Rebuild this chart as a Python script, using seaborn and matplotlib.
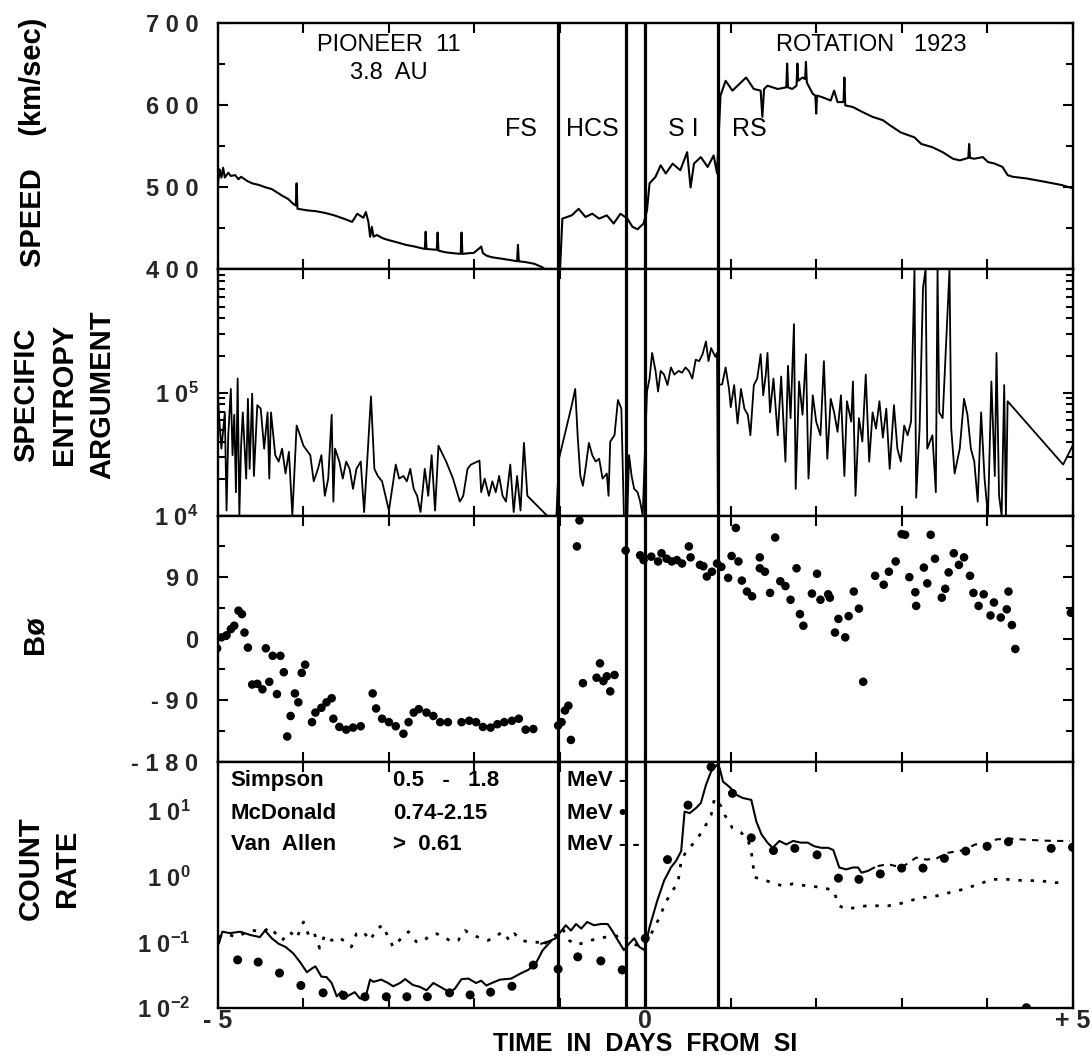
import numpy as np
import pandas as pd
import matplotlib
matplotlib.use("Agg")
import matplotlib.pyplot as plt
import seaborn as sns
from matplotlib.ticker import LogLocator, NullFormatter, MultipleLocator

# ---------------- data (days from SI) ----------------
event_days = [-1.02, -0.22, 0.0, 0.85]          # FS, HCS, SI, RS boundaries

# speed (km/s) - left piece
speed_left_x = [-5.00, -4.98, -4.96, -4.94, -4.92, -4.88, -4.85, -4.80, -4.76, -4.73,
                -4.66, -4.60, -4.52, -4.44, -4.37, -4.31, -4.25, -4.18, -4.12, -4.09,
                -4.08, -4.07, -3.95, -3.85, -3.75, -3.64, -3.53, -3.43, -3.37, -3.30,
                -3.27, -3.24, -3.22, -3.20, -3.18, -3.14, -3.07, -3.01, -2.90, -2.80,
                -2.70, -2.58, -2.57, -2.56, -2.44, -2.43, -2.42, -2.34, -2.26, -2.16,
                -2.15, -2.14, -2.05, -2.01, -1.94, -1.92, -1.90, -1.86, -1.80, -1.67,
                -1.55, -1.50, -1.49, -1.48, -1.40, -1.30, -1.21, -1.17]
speed_left_v = [505, 522, 512, 524, 512, 518, 514, 515, 510, 513,
                508, 505, 503, 500, 498, 494, 490, 486, 480, 478,
                505, 474, 472, 471, 469, 466, 462, 458, 468, 463,
                470, 458, 440, 452, 440, 442, 438, 436, 433, 430,
                428, 425, 446, 425, 424, 445, 423, 421, 420, 419,
                445, 419, 420, 420, 426, 428, 420, 417, 415, 413,
                411, 410, 430, 410, 409, 407, 403, 400]
# speed - right piece
speed_right_x = [-1.00, -0.97, -0.86, -0.78, -0.70, -0.62, -0.54, -0.45, -0.37, -0.29,
                 -0.21, -0.15, -0.09, -0.02, 0.02, 0.05, 0.12, 0.18, 0.24, 0.32,
                 0.41, 0.49, 0.53, 0.57, 0.65, 0.73, 0.80, 0.84, 0.88, 0.94,
                 1.02, 1.18, 1.27, 1.35, 1.37, 1.39, 1.43, 1.55, 1.65, 1.66,
                 1.67, 1.72, 1.77, 1.78, 1.79, 1.84, 1.87, 1.88, 1.89, 1.96,
                 1.99, 2.00, 2.01, 2.07, 2.17, 2.21, 2.25, 2.32, 2.33, 2.34,
                 2.43, 2.54, 2.66, 2.78, 2.86, 2.99, 3.15, 3.23, 3.36, 3.48,
                 3.60, 3.68, 3.78, 3.79, 3.80, 3.85, 3.95, 4.01, 4.09, 4.18,
                 4.24, 4.30, 4.46, 4.67, 4.87, 5.00]
speed_right_v = [395, 462, 466, 474, 464, 468, 462, 466, 456, 468,
                 462, 452, 449, 456, 472, 505, 513, 527, 517, 529,
                 521, 543, 500, 529, 537, 525, 539, 517, 612, 630,
                 618, 634, 620, 618, 586, 620, 624, 620, 622, 651,
                 622, 620, 624, 651, 630, 634, 632, 653, 628, 614,
                 612, 590, 612, 610, 606, 618, 604, 604, 634, 600,
                 598, 592, 586, 582, 576, 567, 561, 553, 549, 543,
                 535, 533, 536, 553, 536, 535, 537, 531, 529, 525,
                 515, 513, 511, 507, 503, 499]

# specific entropy argument - left piece
ent_left_x = [-5.00, -4.98, -4.96, -4.92, -4.90, -4.88, -4.85, -4.83, -4.81, -4.79,
              -4.77, -4.75, -4.73, -4.71, -4.67, -4.65, -4.63, -4.60, -4.58, -4.54,
              -4.50, -4.46, -4.42, -4.40, -4.38, -4.33, -4.29, -4.25, -4.21, -4.17,
              -4.13, -4.08, -4.04, -4.00, -3.92, -3.88, -3.83, -3.79, -3.75, -3.71,
              -3.67, -3.65, -3.63, -3.58, -3.54, -3.50, -3.46, -3.42, -3.38, -3.33,
              -3.29, -3.25, -3.21, -3.17, -3.13, -3.08, -3.00, -2.92, -2.88, -2.83,
              -2.79, -2.75, -2.71, -2.67, -2.63, -2.58, -2.54, -2.50, -2.46, -2.42,
              -2.33, -2.25, -2.17, -2.13, -2.08, -2.04, -1.94, -1.92, -1.88, -1.83,
              -1.79, -1.75, -1.71, -1.67, -1.63, -1.58, -1.54, -1.50, -1.46, -1.42,
              -1.38, -1.15]
ent_left_v = [8.9e4, 5.4e4, 3.5e4, 6.9e4, 1.1e4, 4.5e4, 1.07e5, 3.1e4, 6.6e4, 1.55e4,
              1.3e5, 1.0e4, 3.7e4, 6.9e4, 2.0e4, 8.9e4, 2.4e4, 9.8e4, 2.1e4, 7.9e4,
              7.4e4, 3.5e4, 6.9e4, 2.0e4, 6.9e4, 3.1e4, 2.75e4, 3.5e4, 2.2e4, 3.3e4,
              1.0e4, 5.4e4, 4.5e4, 3.7e4, 3.1e4, 1.9e4, 2.4e4, 3.1e4, 1.45e4, 2.0e4,
              6.6e4, 1.3e4, 3.5e4, 2.75e4, 2.0e4, 2.75e4, 2.4e4, 1.65e4, 2.4e4, 2.75e4,
              1.07e4, 3.1e4, 9.3e4, 2.4e4, 2.1e4, 1.9e4, 1.1e4, 2.6e4, 2.0e4, 2.1e4,
              1.9e4, 2.4e4, 1.65e4, 1.45e4, 1.07e4, 2.4e4, 1.45e4, 3.1e4, 1.1e4, 3.7e4,
              2.75e4, 2.0e4, 1.3e4, 1.45e4, 2.4e4, 2.6e4, 2.8e4, 1.55e4, 2.0e4, 1.45e4,
              1.9e4, 1.55e4, 2.1e4, 1.45e4, 1.3e4, 2.6e4, 1.07e4, 2.1e4, 1.1e4, 3.9e4,
              1.45e4, 1.0e4]
# specific entropy argument - right piece
ent_right_x = [-1.04, -1.01, -0.86, -0.82, -0.79, -0.76, -0.73, -0.70, -0.66, -0.62,
               -0.58, -0.54, -0.50, -0.45, -0.43, -0.41, -0.36, -0.32, -0.28, -0.25,
               -0.21, -0.19, -0.16, -0.13, -0.09, -0.06, -0.03, 0.02, 0.05, 0.08,
               0.12, 0.15, 0.18, 0.22, 0.26, 0.30, 0.34, 0.39, 0.43, 0.47,
               0.51, 0.55, 0.59, 0.63, 0.67, 0.71, 0.74, 0.77, 0.82, 0.84,
               0.85, 0.86, 0.90, 0.94, 0.98, 1.00, 1.04, 1.08, 1.12, 1.16,
               1.20, 1.23, 1.27, 1.31, 1.35, 1.38, 1.41, 1.43, 1.46, 1.50,
               1.55, 1.59, 1.64, 1.67, 1.70, 1.74, 1.76, 1.80, 1.84, 1.88,
               1.91, 1.96, 2.00, 2.05, 2.09, 2.13, 2.17, 2.21, 2.25, 2.29,
               2.33, 2.36, 2.41, 2.43, 2.46, 2.50, 2.54, 2.58, 2.62, 2.66,
               2.70, 2.74, 2.78, 2.82, 2.86, 2.91, 2.95, 2.99, 3.03, 3.07,
               3.11, 3.15, 3.17, 3.21, 3.25, 3.28, 3.30, 3.36, 3.40, 3.42,
               3.44, 3.48, 3.56, 3.58, 3.62, 3.68, 3.73, 3.77, 3.81, 3.85,
               3.89, 3.93, 3.97, 4.01, 4.05, 4.09, 4.11, 4.14, 4.17, 4.20,
               4.22, 4.24, 4.89, 5.00]
ent_right_v = [1.0e4, 2.9e4, 7.9e4, 1.07e5, 4.3e4, 2.1e4, 1.75e4, 2.4e4, 3.9e4, 3.1e4,
               2.75e4, 2.9e4, 2.0e4, 2.2e4, 1.45e4, 4.0e4, 4.5e4, 8.7e4, 7.4e4, 1.0e4,
               1.0e4, 3.1e4, 2.1e4, 1.65e4, 1.55e4, 1.3e4, 1.0e4, 1.02e5, 1.3e5, 2.1e5,
               1.5e5, 1.02e5, 1.5e5, 1.4e5, 1.15e5, 1.6e5, 1.4e5, 1.5e5, 1.45e5, 1.6e5,
               1.5e5, 1.3e5, 1.85e5, 1.8e5, 2.05e5, 2.6e5, 1.8e5, 2.3e5, 1.95e5, 2.1e5,
               1.0e4, 1.15e5, 1.17e5, 1.6e5, 1.07e5, 7.6e4, 1.15e5, 5.6e4, 1.07e5, 7.4e4,
               6.6e4, 4.5e4, 1.15e5, 1.3e5, 2.05e5, 9.5e4, 1.4e5, 2.1e5, 6.9e4, 1.3e5,
               4.5e4, 1.35e5, 2.75e4, 1.65e5, 6.2e4, 3.6e5, 1.65e4, 1.23e5, 6.6e4, 2.05e5,
               2.0e4, 9.5e4, 5.8e4, 4.5e4, 1.8e5, 2.9e4, 8.9e4, 6.9e4, 4.8e4, 9.5e4,
               2.1e4, 8.5e4, 5.8e4, 1.23e5, 1.45e4, 6.2e4, 4.0e4, 1.4e5, 2.75e4, 6.9e4,
               5.1e4, 8.5e4, 4.3e4, 7.4e4, 2.4e4, 7.9e4, 3.5e4, 2.75e4, 5.4e4, 4.5e4,
               5.8e4, 1.0e6, 1.4e4, 5.1e4, 7.1e5, 1.0e6, 3.5e4, 4.5e4, 1.55e4, 1.0e6,
               6.9e4, 6.2e4, 1.0e6, 5.1e4, 2.2e4, 3.5e4, 8.9e4, 6.6e4, 3.5e4, 2.75e4,
               1.3e4, 6.9e4, 2.0e4, 1.0e4, 1.23e5, 2.1e4, 2.1e5, 1.45e4, 1.0e4, 1.15e5,
               1.0e4, 8.5e4, 2.6e4, 3.7e4]

# B-phi (degrees)
bphi_x = [-5.01, -4.96, -4.90, -4.85, -4.81, -4.76, -4.72, -4.69, -4.65, -4.60,
          -4.54, -4.48, -4.44, -4.40, -4.36, -4.31, -4.27, -4.23, -4.19, -4.15,
          -4.10, -4.06, -4.02, -3.98, -3.90, -3.86, -3.79, -3.73, -3.67, -3.65,
          -3.58, -3.50, -3.42, -3.33, -3.19, -3.15, -3.08, -3.00, -2.92, -2.83,
          -2.77, -2.71, -2.65, -2.56, -2.48, -2.40, -2.31, -2.15, -2.06, -1.98,
          -1.90, -1.81, -1.73, -1.65, -1.56, -1.48, -1.40, -1.31,
          -1.02, -0.98, -0.94, -0.90, -0.87, -0.80, -0.77, -0.73, -0.57, -0.53,
          -0.49, -0.45, -0.41, -0.36, -0.23, -0.06, -0.02, 0.07, 0.15, 0.19,
          0.25, 0.31, 0.37, 0.43, 0.51, 0.53, 0.64, 0.68, 0.72, 0.78,
          0.84, 0.89, 0.97, 1.01, 1.06, 1.09, 1.13, 1.19, 1.25, 1.34,
          1.34, 1.40, 1.46, 1.52, 1.58, 1.64, 1.70, 1.77, 1.81, 1.85,
          1.95, 2.01, 2.05, 2.14, 2.16, 2.22, 2.26, 2.34, 2.38, 2.44,
          2.50, 2.55, 2.69, 2.79, 2.85, 2.93, 3.00, 3.04, 3.09, 3.16,
          3.17, 3.26, 3.30, 3.34, 3.39, 3.47, 3.51, 3.55, 3.61, 3.67,
          3.73, 3.80, 3.84, 3.90, 3.96, 4.04, 4.08, 4.16, 4.23, 4.25,
          4.29, 4.33, 4.98]
bphi_v = [-14, 2, 5, 14, 19, 41, 36, 9, -13, -67,
          -66, -74, -14, -63, -25, -81, -25, -49, -143, -113,
          -80, -93, -50, -38, -122, -108, -101, -93, -87, -117,
          -129, -133, -130, -128, -80, -102, -117, -122, -128, -139,
          -122, -108, -103, -108, -113, -122, -122, -122, -120, -122,
          -129, -130, -125, -122, -120, -117, -133, -132,
          -127, -122, -105, -98, -148, 135, 173, -65, -57, -36,
          -62, -55, -77, -53, 129, 122, 115, 120, 113, 125,
          117, 113, 115, 110, 135, 119, 108, 106, 91, 98,
          110, 105, 89, 121, 162, 113, 85, 69, 62, 119,
          103, 98, 67, 148, 84, 77, 57, 103, 36, 19,
          66, 95, 57, 65, 60, 9, 29, 2, 33, 69,
          44, -63, 92, 79, 98, 113, 153, 152, 90, 68,
          48, 104, 81, 152, 117, 60, 73, 97, 125, 108,
          119, 92, 67, 48, 65, 34, 53, 31, 43, 69,
          20, -15, 38]

# count rates
simpson_left_x = [-4.99, -4.95, -4.86, -4.74, -4.62, -4.51, -4.45, -4.37, -4.29, -4.21,
                  -4.12, -4.04, -3.96, -3.90, -3.86, -3.79, -3.73, -3.67, -3.61, -3.55,
                  -3.49, -3.40, -3.34, -3.28, -3.22, -3.18, -3.09, -3.01, -2.95, -2.87,
                  -2.81, -2.72, -2.64, -2.56, -2.48, -2.40, -2.29, -2.23, -2.15, -2.07,
                  -1.98, -1.92, -1.86, -1.78, -1.70, -1.57, -1.45, -1.37, -1.28, -1.20,
                  -1.10]
simpson_left_v = [0.095, 0.145, 0.138, 0.145, 0.129, 0.120, 0.151, 0.115, 0.095, 0.085,
                  0.068, 0.050, 0.035, 0.040, 0.043, 0.030, 0.0295, 0.024, 0.015, 0.018,
                  0.015, 0.0174, 0.014, 0.0135, 0.027, 0.025, 0.027, 0.024, 0.0214, 0.024,
                  0.0275, 0.0224, 0.021, 0.0186, 0.024, 0.021, 0.0174, 0.0195, 0.0275, 0.028,
                  0.024, 0.026, 0.022, 0.0245, 0.027, 0.028, 0.034, 0.038, 0.048, 0.076,
                  0.105]
simpson_right_x = [-1.22, -1.14, -1.05, -0.99, -0.93, -0.87, -0.81, -0.75, -0.68, -0.60,
                   -0.52, -0.44, -0.38, -0.32, -0.25, -0.19, -0.13, -0.07, -0.01, 0.05,
                   0.14, 0.22, 0.30, 0.36, 0.42, 0.46, 0.52, 0.59, 0.65, 0.71,
                   0.77, 0.83, 0.87, 0.91, 0.99, 1.06, 1.14, 1.24, 1.30, 1.36,
                   1.43, 1.49, 1.57, 1.65, 1.73, 1.82, 1.90, 1.98, 2.06, 2.14,
                   2.20, 2.27, 2.35, 2.43, 2.49, 2.53, 2.61, 2.68]
simpson_right_v = [0.095, 0.102, 0.115, 0.145, 0.182, 0.151, 0.19, 0.162, 0.204, 0.182,
                   0.19, 0.19, 0.145, 0.107, 0.076, 0.095, 0.115, 0.085, 0.076, 0.17,
                   0.43, 0.87, 1.38, 1.74, 2.45, 9.8, 9.3, 11.0, 13.2, 25.0,
                   40.0, 50.0, 45.0, 28.0, 23.0, 17.8, 15.8, 14.8, 6.9, 4.4,
                   3.3, 2.75, 3.5, 3.1, 3.5, 3.3, 3.3, 2.9, 2.75, 2.75,
                   2.55, 1.38, 1.29, 1.38, 1.38, 1.15, 1.23, 1.38]
simpson_tail_x = [2.72, 2.84, 3.00, 3.17, 3.29, 3.41, 3.53, 3.66, 3.74, 3.86,
                  3.99, 4.11, 4.27, 4.40, 4.64, 4.81, 4.97]
simpson_tail_v = [1.45, 1.55, 1.38, 1.95, 1.82, 1.9, 2.3, 2.45, 2.55, 3.1,
                  3.1, 3.7, 3.8, 3.7, 3.55, 3.5, 3.5]

mcdonald_x = [-4.77, -4.53, -4.28, -4.03, -3.77, -3.53, -3.28, -3.03, -2.79, -2.55,
              -2.29, -2.05, -1.81, -1.56, -1.31,
              -1.02, -0.79, -0.52, -0.27, 0.00, 0.26, 0.50, 0.77, 1.02, 1.24,
              1.50, 1.75, 2.01, 2.26, 2.50, 2.75, 3.00, 3.25, 3.50, 3.75,
              4.00, 4.25, 4.46, 4.75, 5.00]
mcdonald_v = [0.054, 0.050, 0.034, 0.022, 0.017, 0.0155, 0.0148, 0.0148, 0.0148, 0.0148,
              0.017, 0.0158, 0.0174, 0.0214, 0.045,
              0.039, 0.060, 0.052, 0.038, 0.115, 1.82, 12.3, 47.0, 18.6, 3.9,
              2.5, 2.7, 2.15, 0.95, 0.91, 1.10, 1.35, 1.35, 1.9, 2.45,
              2.9, 3.4, 0.0101, 2.7, 2.8]

vanallen_left_x = [-4.99, -4.91, -4.78, -4.66, -4.58, -4.47, -4.39, -4.31, -4.25, -4.16,
                   -4.08, -4.00, -3.94, -3.88, -3.81, -3.75, -3.67, -3.59, -3.51, -3.44,
                   -3.38, -3.30, -3.22, -3.14, -3.07, -3.01, -2.95, -2.89, -2.83, -2.77,
                   -2.68, -2.60, -2.52, -2.44, -2.35, -2.27, -2.19, -2.11, -2.02, -1.92,
                   -1.84, -1.76, -1.67, -1.59, -1.53, -1.45, -1.37, -1.26, -1.16]
vanallen_left_v = [0.120, 0.135, 0.120, 0.145, 0.151, 0.145, 0.170, 0.129, 0.107, 0.145,
                   0.115, 0.204, 0.129, 0.145, 0.081, 0.129, 0.107, 0.120, 0.102, 0.085,
                   0.135, 0.145, 0.107, 0.162, 0.182, 0.120, 0.085, 0.102, 0.129, 0.145,
                   0.102, 0.102, 0.129, 0.135, 0.120, 0.102, 0.107, 0.151, 0.129, 0.115,
                   0.107, 0.120, 0.145, 0.107, 0.135, 0.107, 0.102, 0.100, 0.107]
vanallen_right_x = [-1.18, -1.05, -0.97, -0.89, -0.81, -0.68, -0.56, -0.46, -0.36, -0.27,
                    -0.15, -0.03, 0.05, 0.16, 0.24, 0.32, 0.38, 0.42, 0.48, 0.59,
                    0.69, 0.77, 0.81, 0.89, 0.93, 1.02, 1.12, 1.20, 1.24, 1.28,
                    1.36, 1.49, 1.61, 1.73, 1.90, 2.06, 2.20, 2.27, 2.35, 2.47,
                    2.59, 2.72, 2.84, 2.96, 3.09, 3.25, 3.41, 3.58, 3.74, 3.91,
                    4.07, 4.23, 4.44, 4.60, 4.81, 4.93]
vanallen_right_v = [0.095, 0.129, 0.162, 0.107, 0.091, 0.102, 0.115, 0.120, 0.120, 0.135,
                    0.095, 0.085, 0.120, 0.23, 0.41, 0.62, 0.78, 1.74, 2.45, 3.5,
                    5.5, 8.7, 15.5, 11.7, 8.7, 5.5, 4.7, 3.7, 2.45, 0.98,
                    0.91, 0.81, 0.72, 0.78, 0.72, 0.69, 0.62, 0.36, 0.32, 0.34,
                    0.36, 0.36, 0.36, 0.38, 0.43, 0.48, 0.51, 0.58, 0.65, 0.78,
                    0.91, 0.91, 0.87, 0.87, 0.81, 0.81]

speed_ticks = [400, 500, 600, 700]
speed_labels = ["4 0 0", "5 0 0", "6 0 0", "7 0 0"]
ent_ticks = [1e4, 1e5]
ent_labels = ["1 0$^{4}$", "1 0$^{5}$"]
bphi_ticks = [-180, -90, 0, 90]
bphi_labels = ["- 1 8 0", "- 9 0", "0", "9 0"]
count_ticks = [1e-2, 1e-1, 1e0, 1e1]
count_labels = ["1 0$^{-2}$", "1 0$^{-1}$", "1 0$^{0}$", "1 0$^{1}$"]
x_labels = ["- 5", "", "", "", "", "0", "", "", "", "", "+ 5"]

# ---------------- style ----------------
sns.set_theme(style="ticks")
plt.rcParams["font.family"] = ["Liberation Sans", "DejaVu Sans"]
plt.rcParams["font.weight"] = "bold"
plt.rcParams["mathtext.fontset"] = "custom"
plt.rcParams["mathtext.rm"] = "Liberation Sans:bold"
plt.rcParams["mathtext.bf"] = "Liberation Sans:bold"
plt.rcParams["mathtext.it"] = "Liberation Sans:bold"
plt.rcParams["mathtext.default"] = "bf"
plt.rcParams["axes.linewidth"] = 1.7

fig, axes = plt.subplots(4, 1, figsize=(10.9, 10.61), dpi=100, sharex=True)
fig.subplots_adjust(left=0.2, right=0.984, top=0.978, bottom=0.05, hspace=0)
ax_sp, ax_en, ax_bp, ax_ct = axes

LW = 1.5


def draw_line(ax, x, y, ls="-", lw=LW):
    df = pd.DataFrame({"x": x, "y": y})
    sns.lineplot(data=df, x="x", y="y", ax=ax, sort=False, estimator=None,
                 color="black", lw=lw, legend=False)
    ax.lines[-1].set_linestyle(ls)


def draw_dots(ax, x, y, s=38):
    df = pd.DataFrame({"x": x, "y": y})
    sns.scatterplot(data=df, x="x", y="y", ax=ax, color="black", s=s,
                    edgecolor="none", legend=False, zorder=3)


# speed
draw_line(ax_sp, speed_left_x, speed_left_v)
draw_line(ax_sp, speed_right_x, speed_right_v)
ax_sp.set_ylim(400, 700)

# entropy
ax_en.set_yscale("log")
draw_line(ax_en, ent_left_x, ent_left_v, lw=1.3)
draw_line(ax_en, ent_right_x, ent_right_v, lw=1.3)
ax_en.set_ylim(1e4, 1e6)

# B phi
draw_dots(ax_bp, bphi_x, bphi_v)
ax_bp.set_ylim(-180, 180)

# count rate
ax_ct.set_yscale("log")
draw_line(ax_ct, simpson_left_x, simpson_left_v)
draw_line(ax_ct, simpson_right_x, simpson_right_v)
draw_line(ax_ct, simpson_tail_x, simpson_tail_v, ls=(0, (3, 3)))
draw_line(ax_ct, vanallen_left_x, vanallen_left_v, ls=(0, (1.2, 3.2)), lw=2.0)
draw_line(ax_ct, vanallen_right_x, vanallen_right_v, ls=(0, (1.2, 3.2)), lw=2.0)
draw_dots(ax_ct, mcdonald_x, mcdonald_v, s=42)
ax_ct.set_ylim(1e-2, 10 ** 1.75)

# event boundaries
for ax in axes:
    for xv in event_days:
        ax.axvline(xv, color="black", lw=2.3, zorder=4)
    ax.set_xlim(-5, 5)
    ax.set_xlabel("")
    ax.set_ylabel("")
    ax.xaxis.set_major_locator(MultipleLocator(1))
    ax.tick_params(axis="both", which="both", direction="in", top=True, right=True,
                   width=1.5, color="black")
    ax.tick_params(axis="both", which="major", length=7, labelsize=17, pad=14)
    ax.tick_params(axis="both", which="minor", length=5)
    for sp in ax.spines.values():
        sp.set_color("black")
        sp.set_linewidth(1.7)

ax_sp.set_yticks(speed_ticks, speed_labels)
ax_sp.yaxis.set_minor_locator(MultipleLocator(50))

ax_en.set_yticks(ent_ticks, ent_labels)
ax_en.yaxis.set_minor_locator(LogLocator(base=10, subs=np.arange(2, 10)))
ax_en.yaxis.set_minor_formatter(NullFormatter())

ax_bp.set_yticks(bphi_ticks, bphi_labels)
ax_bp.yaxis.set_minor_locator(MultipleLocator(45))

ax_ct.set_yticks(count_ticks, count_labels)
ax_ct.yaxis.set_minor_locator(LogLocator(base=10, subs=[]))
ax_ct.yaxis.set_minor_formatter(NullFormatter())
ax_ct.tick_params(axis="y", which="both", length=0, pad=20)

ax_ct.set_xticks(np.arange(-5, 6), x_labels)
ax_ct.tick_params(axis="x", which="major", labelsize=18, pad=1)

# annotations
TXT = dict(ha="center", va="center", fontweight="normal", color="black")
ax_sp.text(-3.0, 674, "PIONEER  11", fontsize=17, **TXT)
ax_sp.text(-3.0, 640, "3.8  AU", fontsize=17, **TXT)
ax_sp.text(2.65, 674, "ROTATION   1923", fontsize=17, **TXT)
ax_sp.text(-1.45, 571, "FS", fontsize=18, **TXT)
ax_sp.text(-0.62, 571, "HCS", fontsize=18, **TXT)
ax_sp.text(0.45, 571, "S I", fontsize=18, **TXT)
ax_sp.text(1.22, 571, "RS", fontsize=18, **TXT)

LEG = dict(ha="left", va="center", fontsize=16, fontweight="bold", color="black",
           transform=ax_ct.get_xaxis_transform())
ax_ct.text(-4.85, 0.925, "Simpson", **LEG)
ax_ct.text(-2.95, 0.925, "0.5   -   1.8", **LEG)
ax_ct.text(-0.92, 0.925, "MeV -", **LEG)
ax_ct.text(-4.85, 0.79, "McDonald", **LEG)
ax_ct.text(-2.95, 0.79, "0.74-2.15", **LEG)
ax_ct.text(-0.92, 0.79, "MeV •", **LEG)
ax_ct.text(-4.85, 0.665, "Van  Allen", **LEG)
ax_ct.text(-2.95, 0.665, ">  0.61", **LEG)
ax_ct.text(-0.92, 0.665, "MeV - -", **LEG)

# y-axis titles
YL = dict(ha="center", va="center", rotation=90, fontsize=21, fontweight="bold",
          color="black")
fig.text(0.030, 0.866, "SPEED    (km/sec)", **YL)
fig.text(0.059, 0.628, "SPECIFIC\nENTROPY\nARGUMENT", linespacing=1.45,
         multialignment="center", **YL)
fig.text(0.032, 0.402, "Bø", **YL)
fig.text(0.045, 0.182, "COUNT\nRATE", linespacing=1.35, multialignment="center", **YL)

fig.text(0.592, 0.0095, "TIME  IN  DAYS  FROM  SI", ha="center", va="baseline",
         fontsize=18, fontweight="bold", color="black")

fig.savefig("out.png", dpi=100, facecolor="white")
